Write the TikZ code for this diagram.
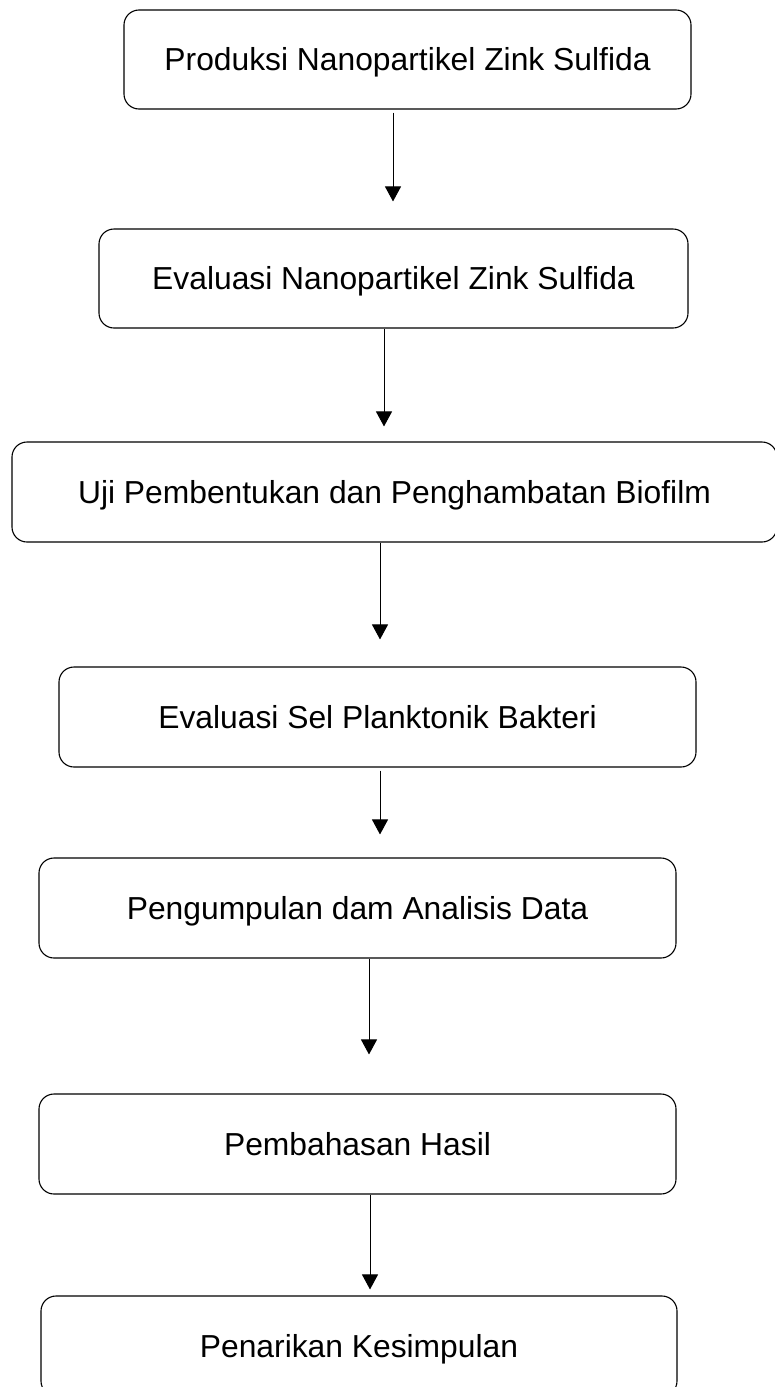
\documentclass[tikz,border=0pt]{standalone}
\usepackage{fontspec}
\setmainfont{Liberation Sans}
\usetikzlibrary{arrows.meta}

\begin{document}
\begin{tikzpicture}[x=1pt,y=1pt,
  stepbox/.style={draw=black, line width=1.1pt, rounded corners=15pt,
    inner sep=0pt, text height=22.5pt, text depth=0pt,
    font=\fontsize{31.8}{38}\selectfont},
  flow/.style={draw=black, line width=1pt,
    -{Triangle[length=15pt,width=16pt]}}]
\useasboundingbox (0,0) rectangle (775,-1387);

% process steps, top to bottom
\node[stepbox, minimum width=567pt, minimum height=99pt]  (s1) at (407.5,-59.5) {Produksi Nanopartikel Zink Sulfida};
\node[stepbox, minimum width=589pt, minimum height=99pt]  (s2) at (393.5,-278.5) {Evaluasi Nanopartikel Zink Sulfida};
\node[stepbox, minimum width=765pt, minimum height=100pt] (s3) at (394.5,-492) {Uji Pembentukan dan Penghambatan Biofilm};
\node[stepbox, minimum width=637pt, minimum height=100pt] (s4) at (377.5,-717) {Evaluasi Sel Planktonik Bakteri};
\node[stepbox, minimum width=637pt, minimum height=100pt] (s5) at (357.5,-908) {Pengumpulan dam Analisis Data};
\node[stepbox, minimum width=637pt, minimum height=100pt] (s6) at (357.5,-1144) {Pembahasan Hasil};
\node[stepbox, minimum width=636pt, minimum height=100pt] (s7) at (359,-1346) {Penarikan Kesimpulan};

% connectors between consecutive steps
\draw[flow, shorten <=3pt, shorten >=27pt] (s1.south -| 393,0) -- (s2.north -| 393,0);
\draw[flow, shorten >=15pt] (s2.south -| 384,0) -- (s3.north -| 384,0);
\draw[flow, shorten >=27pt] (s3.south -| 380,0) -- (s4.north -| 380,0);
\draw[flow, shorten <=3pt, shorten >=23pt] (s4.south -| 380,0) -- (s5.north -| 380,0);
\draw[flow, shorten >=39pt] (s5.south -| 369,0) -- (s6.north -| 369,0);
\draw[flow, shorten >=6pt] (s6.south -| 370,0) -- (s7.north -| 370,0);
\end{tikzpicture}
\end{document}
